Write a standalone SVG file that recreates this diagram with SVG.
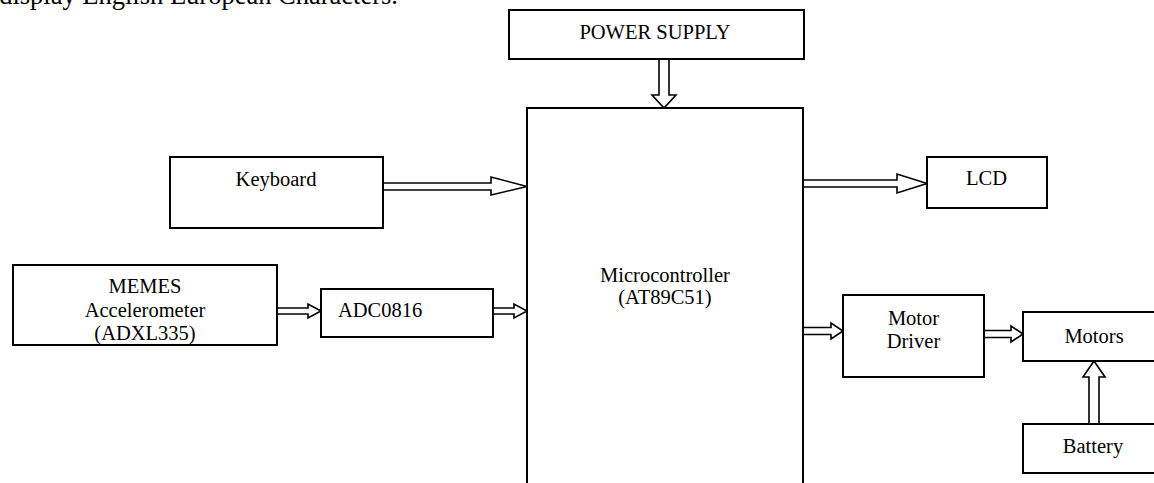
<svg xmlns="http://www.w3.org/2000/svg" width="1154" height="483" viewBox="0 0 1154 483">
<style>
.box{fill:#fff;stroke:#000;stroke-width:2}
.arr{fill:#fff;stroke:#000;stroke-width:1.6;stroke-linejoin:miter}
text{font-family:"Liberation Serif","Times New Roman",serif;font-size:20.5px;fill:#000}
.c{text-anchor:middle}
</style>
<rect width="1154" height="483" fill="#fff"/>
<text x="398" y="4" text-anchor="end" style="font-size:26.5px">display English European Characters.</text>
<g id="connectors">
<polygon class="arr" points="659,59 669,59 669,95 676,95 664,108 652,95 659,95"/>
<polygon class="arr" points="383,183 491,183 491,177 527,186.5 491,195 491,190 383,190"/>
<polygon class="arr" points="803,180 897,180 897,174 927,183.5 897,193 897,187 803,187"/>
<polygon class="arr" points="277,308 308,308 308,304 321,311 308,318 308,314 277,314"/>
<polygon class="arr" points="493,308 514,308 514,304 527,311 514,318 514,314 493,314"/>
<polygon class="arr" points="803,327.5 831,327.5 831,323 843,331 831,339 831,334.5 803,334.5"/>
<polygon class="arr" points="984,330.5 1011,330.5 1011,326 1023,334 1011,342 1011,337.5 984,337.5"/>
<polygon class="arr" points="1089,424 1089,377 1083,377 1094,361 1105,377 1099,377 1099,424"/>
</g>
<g id="power"><rect class="box" x="509" y="10" width="295" height="49"/><text class="c" x="655" y="39">POWER SUPPLY</text></g>
<g id="mcu"><rect class="box" x="527" y="108" width="276" height="390"/><text class="c" x="665" y="282">Microcontroller</text><text class="c" x="665" y="304">(AT89C51)</text></g>
<g id="keyboard"><rect class="box" x="170" y="157" width="213" height="71"/><text class="c" x="276" y="186">Keyboard</text></g>
<g id="lcd"><rect class="box" x="927" y="157" width="120" height="51"/><text class="c" x="986.5" y="185">LCD</text></g>
<g id="memes"><rect class="box" x="13" y="265" width="264" height="80"/><text class="c" x="145" y="293">MEMES</text><text class="c" x="145" y="317">Accelerometer</text><text class="c" x="145" y="340">(ADXL335)</text></g>
<g id="adc"><rect class="box" x="321" y="289" width="172" height="48"/><text x="338" y="317">ADC0816</text></g>
<g id="driver"><rect class="box" x="843" y="295" width="141" height="82"/><text class="c" x="913.5" y="325">Motor</text><text class="c" x="913.5" y="348">Driver</text></g>
<g id="motors"><rect class="box" x="1023" y="312" width="132" height="49"/><text class="c" x="1094" y="343">Motors</text></g>
<g id="battery"><rect class="box" x="1023" y="424" width="132" height="49"/><text class="c" x="1093" y="453">Battery</text></g>
</svg>
